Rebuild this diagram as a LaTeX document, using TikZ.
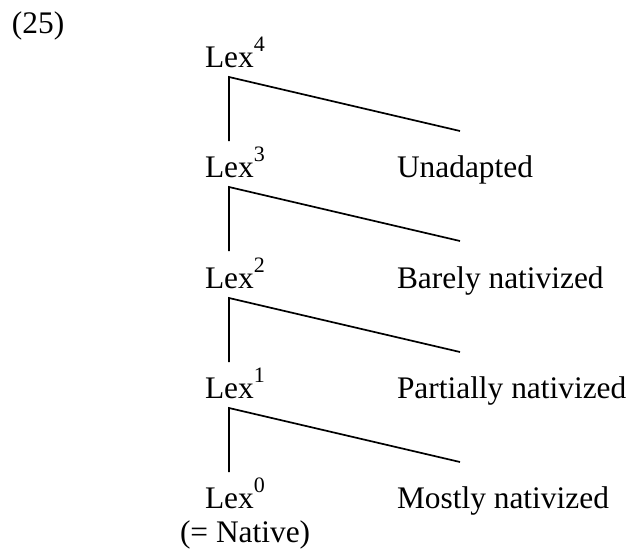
\documentclass[tikz,border=0pt]{standalone}
\usepackage{fontspec}
\setmainfont{Liberation Serif}
\newcommand{\lexsup}[1]{\raisebox{16pt}{\fontsize{22}{22}\selectfont #1}}
\tikzset{
  txt/.style={anchor=base west, inner sep=0pt, outer sep=0pt, font=\fontsize{31.4}{36}\selectfont},
  branch/.style={line width=1.7pt, line cap=butt, line join=miter}
}
\begin{document}
\begin{tikzpicture}[x=1pt,y=-1pt]
\useasboundingbox (0,0) rectangle (632,552);
\node[txt] (num) at (12,33) {(25)};
\foreach \i/\b in {4/67,3/177,2/288,1/398,0/508}{
  \node[txt] (lex\i) at (205,\b) {Lex\lexsup{\i}};
}
\node[txt] (l3) at (397,177) {Unadapted};
\node[txt] (l2) at (397,288) {Barely nativized};
\node[txt] (l1) at (397,398) {Partially nativized};
\node[txt] (l0) at (397,508) {Mostly nativized};
\node[txt] (nat) at (180,542) {(= Native)};
\foreach \i/\b in {4/67,3/177,2/288,1/398}{
  \coordinate (c\i) at (229,\b+10);
  \coordinate (v\i) at (229,\b+74);
  \coordinate (e\i) at (460,\b+64);
  \draw[branch] (v\i) -- (c\i) -- (e\i);
}
\end{tikzpicture}
\end{document}
